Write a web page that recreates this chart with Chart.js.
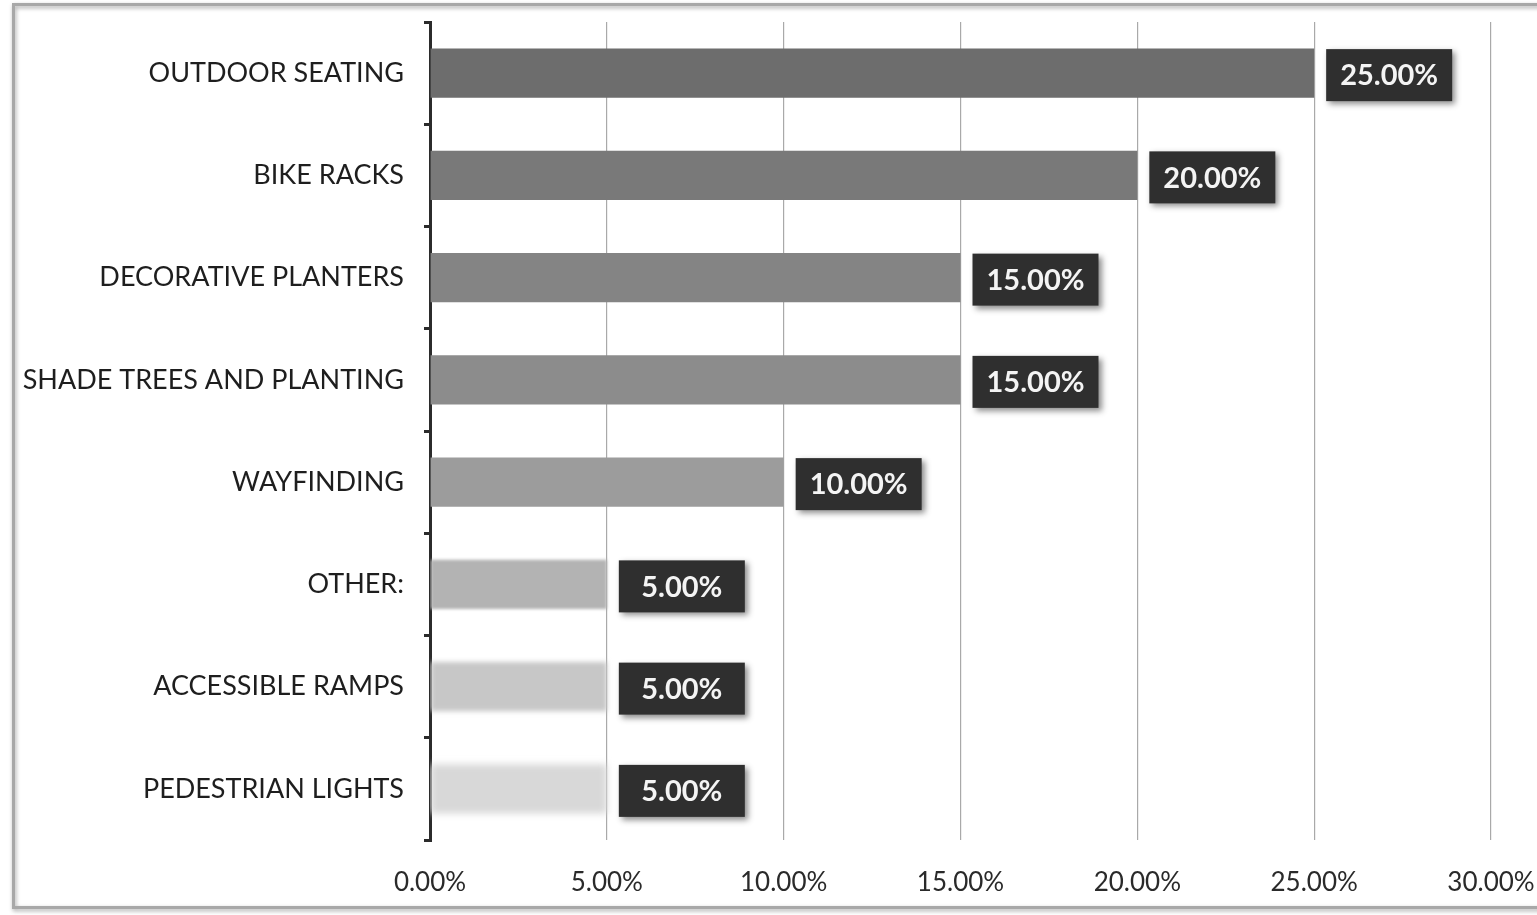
<!DOCTYPE html>
<html>
<head>
<meta charset="utf-8">
<script src="https://cdn.jsdelivr.net/npm/chart.js@4"></script>
<style>
  html, body { margin: 0; padding: 0; background: #fff; }
  #wrap { position: relative; width: 1537px; height: 915px; }
</style>
</head>
<body>
<div id="wrap"><canvas id="amenities-chart" width="1537" height="915"></canvas></div>
<script>
const categories = [
  "OUTDOOR SEATING",
  "BIKE RACKS",
  "DECORATIVE PLANTERS",
  "SHADE TREES AND PLANTING",
  "WAYFINDING",
  "OTHER:",
  "ACCESSIBLE RAMPS",
  "PEDESTRIAN LIGHTS"
]
const shares = [25, 20, 15, 15, 10, 5, 5, 5]
const barColors = ["#6d6d6d", "#797979", "#848484", "#8c8c8c", "#9c9c9c", "#b3b3b3", "#c7c7c7", "#d8d8d8"]
const barBlur = [0, 0, 0, 0, 0, 1.5, 2.5, 3.5]
const xTicks = [0, 5, 10, 15, 20, 25, 30]

const pct = (v) => v.toFixed(2) + "%"

// frame round the whole chart
const framePlugin = {
  id: "frame",
  beforeDraw(chart) {
    const ctx = chart.ctx
    ctx.save()
    ctx.fillStyle = "#ffffff"
    ctx.fillRect(0, 0, chart.width, chart.height)
    ctx.shadowColor = "rgba(0,0,0,0.35)"
    ctx.shadowBlur = 4
    ctx.shadowOffsetX = 1
    ctx.shadowOffsetY = 2
    ctx.strokeStyle = "#a8a8a8"
    ctx.lineWidth = 3
    ctx.strokeRect(13.5, 4.5, chart.width + 10, 903)
    ctx.restore()
  }
}

// draw bars one by one so the faint ones can be softened
const softBars = {
  id: "softBars",
  beforeDatasetDraw(chart, args) {
    const ctx = chart.ctx
    const area = chart.chartArea
    args.meta.data.forEach((bar, i) => {
      ctx.save()
      ctx.beginPath()
      ctx.rect(area.left, area.top - 10, area.right - area.left, area.bottom - area.top + 20)
      ctx.clip()
      if (barBlur[i]) ctx.filter = "blur(" + barBlur[i] + "px)"
      bar.draw(ctx)
      ctx.restore()
    })
    return false
  }
}

// dark value boxes to the right of each bar
const valueBoxes = {
  id: "valueBoxes",
  afterDatasetsDraw(chart) {
    const ctx = chart.ctx
    const meta = chart.getDatasetMeta(0)
    ctx.save()
    ctx.font = "bold 29px Lato"
    ctx.textAlign = "center"
    ctx.textBaseline = "middle"
    meta.data.forEach((bar, i) => {
      const text = pct(shares[i])
      const w = 126, h = 52
      const x = bar.x + 12
      const y = bar.y - h / 2 + 2
      ctx.save()
      ctx.shadowColor = "rgba(0,0,0,0.45)"
      ctx.shadowBlur = 6
      ctx.shadowOffsetX = 3
      ctx.shadowOffsetY = 3
      ctx.fillStyle = "#2f2f2f"
      ctx.fillRect(x, y, w, h)
      ctx.restore()
      ctx.fillStyle = "#f4f4f4"
      ctx.fillText(text, x + w / 2, y + h / 2 + 1)
    })
    ctx.restore()
  }
}

new Chart(document.getElementById("amenities-chart"), {
  type: "bar",
  data: {
    labels: categories,
    datasets: [
      {
        data: shares,
        backgroundColor: barColors,
        borderWidth: 0,
        barPercentage: 0.6,
        categoryPercentage: 0.8
      }
    ]
  },
  options: {
    indexAxis: "y",
    responsive: false,
    animation: false,
    devicePixelRatio: 1,
    layout: { padding: { left: 0, top: 22, right: 46, bottom: 0 } },
    plugins: {
      legend: { display: false },
      tooltip: { enabled: false }
    },
    scales: {
      x: {
        min: 0,
        max: 30,
        afterBuildTicks: (scale) => { scale.ticks = xTicks.map((v) => ({ value: v })) },
        afterFit: (scale) => {
          scale.height = 75
          scale.paddingLeft = 0
          scale.paddingRight = 0
        },
        grid: { color: "#a9a9a9", lineWidth: 1.2, drawTicks: false },
        border: { display: false },
        ticks: {
          padding: 27,
          color: "#2a2a2a",
          font: { family: "Lato", size: 26 },
          callback: (v) => pct(v)
        }
      },
      y: {
        afterFit: (scale) => {
          scale.width = 430
          scale.paddingTop = 0
          scale.paddingBottom = 0
        },
        grid: { drawOnChartArea: false, drawTicks: true, tickLength: 6, color: "#2b2b2b", lineWidth: 3, offset: true },
        border: { display: true, color: "#2b2b2b", width: 3 },
        ticks: {
          padding: 20,
          color: "#1e1e1e",
          font: { family: "Lato", size: 27 }
        }
      }
    }
  },
  plugins: [framePlugin, softBars, valueBoxes]
})
</script>
</body>
</html>
